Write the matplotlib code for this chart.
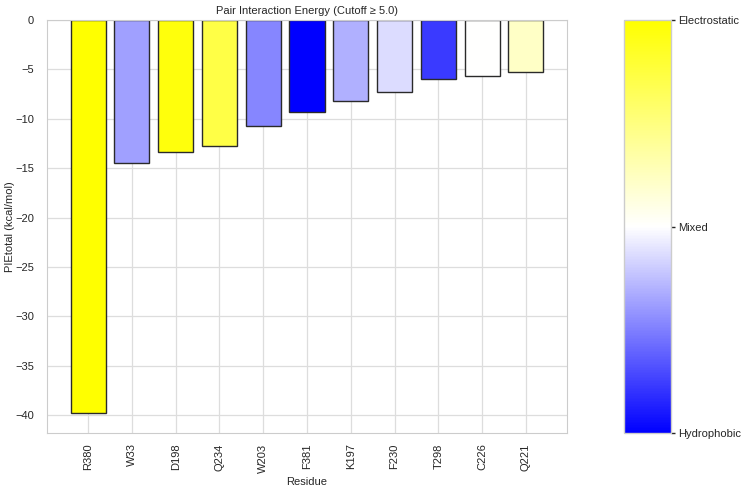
import matplotlib
matplotlib.use("Agg")
import matplotlib.pyplot as plt
import matplotlib.colors as mcolors
import matplotlib.cm as cm
import seaborn as sns

sns.set_style("whitegrid")
plt.rcParams['font.family'] = ['Liberation Sans', 'DejaVu Sans']

residues = ["R380", "W33", "D198", "Q234", "W203", "F381", "K197", "F230", "T298", "C226", "Q221"]
pie_total = [-39.8, -14.5, -13.4, -12.8, -10.75, -9.35, -8.15, -7.3, -6.0, -5.7, -5.25]
# character score: -1 hydrophobic, 0 mixed, 1 electrostatic
character = [1.0, -0.37, 0.95, 0.72, -0.47, -1.0, -0.31, -0.14, -0.77, 0.0, 0.22]
cbar_ticks = [-1, 0, 1]
cbar_labels = ["Hydrophobic", "Mixed", "Electrostatic"]

cmap = mcolors.LinearSegmentedColormap.from_list("pie", ["blue", "white", "yellow"])
norm = mcolors.Normalize(vmin=-1, vmax=1)

fig = plt.figure(figsize=(7.44, 4.90), dpi=100)
ax = fig.add_axes([47 / 744, 57 / 490, 520 / 744, 413 / 490])
cax = fig.add_axes([624 / 744, 57 / 490, 47 / 744, 413 / 490])

colors = [cmap(norm(c)) for c in character]
ax.bar(residues, pie_total, color=colors, edgecolor="#2a2a2a", linewidth=1.0, width=0.8, zorder=2)

ax.set_title("Pair Interaction Energy (Cutoff \u2265 5.0)", fontsize=8, color="#262626", pad=4)
ax.set_xlabel("Residue", fontsize=8, color="#262626", labelpad=3)
ax.set_ylabel("PIEtotal (kcal/mol)", fontsize=8, color="#262626")
ax.yaxis.set_label_coords(-0.061, 0.5)
ax.tick_params(axis="x", labelsize=8, rotation=90, colors="#262626", pad=4)
ax.tick_params(axis="y", labelsize=8, colors="#262626", pad=6)
ax.grid(True, color="#dddddd", linewidth=0.9)
for s in ax.spines.values():
    s.set_color("#cccccc")
ax.set_axisbelow(True)

sm = cm.ScalarMappable(norm=norm, cmap=cmap)
sm.set_array([])
cb = fig.colorbar(sm, cax=cax, ticks=cbar_ticks)
cb.ax.set_yticklabels(cbar_labels)
cb.ax.tick_params(labelsize=8, length=3, width=1, colors="#262626", pad=2)
cb.outline.set_edgecolor("#cccccc")
cb.outline.set_linewidth(1)

fig.savefig("out.png", dpi=100)
